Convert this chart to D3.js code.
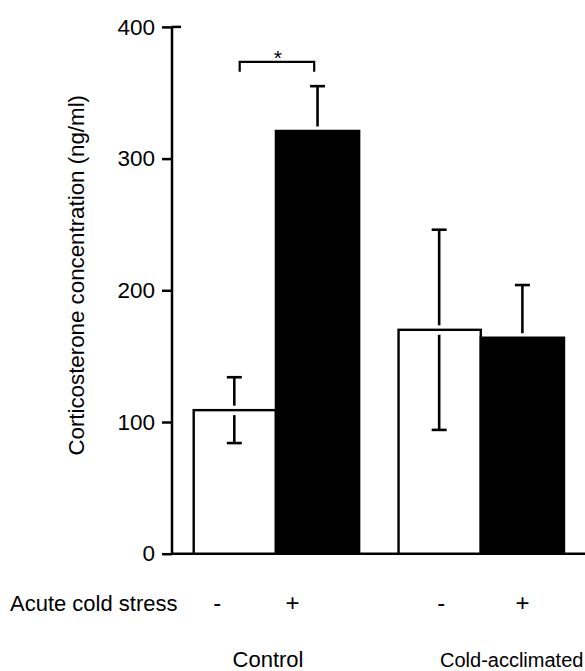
<!DOCTYPE html>
<html><head><meta charset="utf-8">
<script src="https://cdn.jsdelivr.net/npm/d3@7"></script>
<style>body{margin:0;background:#fff}svg{display:block}text{font-family:"Liberation Sans",Arial,sans-serif;fill:#000}</style>
</head><body><svg id="c" width="585" height="671"></svg>
<script>
const groups = ["Control", "Cold-acclimated"];
const treatments = ["-", "+"];
const means = [[109, 321], [170, 164]];
const errors = [[25, 34], [76, 40]];
const yTicks = [0, 100, 200, 300, 400];
const yLabel = "Corticosterone concentration (ng/ml)";
const rowLabel = "Acute cold stress";

const svg = d3.select("#c");
const y = d3.scaleLinear().domain([0, 400]).range([553.7, 26.9]);
const x0 = d3.scaleBand().domain(groups).range([192.7, 564]).paddingInner(0.1875).paddingOuter(0);
const x1 = d3.scaleBand().domain(treatments).range([0, x0.bandwidth()]).padding(0);
const axX = 172;

// baseline
svg.append("line").attr("x1", axX).attr("x2", 585).attr("y1", y(0)).attr("y2", y(0))
  .attr("stroke", "#000").attr("stroke-width", 2.5);

// bars
const data = [];
groups.forEach((g, gi) => treatments.forEach((t, ti) => data.push({g, t, v: means[gi][ti], e: errors[gi][ti]})));
svg.selectAll("rect.bar").data(data).enter().append("rect")
  .attr("x", d => x0(d.g) + x1(d.t) + (d.t === "-" ? 1 : 0))
  .attr("y", d => y(d.v))
  .attr("width", d => x1.bandwidth() - (d.t === "-" ? 1 : 0))
  .attr("height", d => y(0) - y(d.v))
  .attr("fill", d => d.t === "+" ? "#000" : "#fff")
  .attr("stroke", "#000").attr("stroke-width", 2.4);

// error bars
const eb = svg.append("g").attr("stroke", "#000").attr("stroke-width", 2.6);
data.forEach(d => {
  const cx = x0(d.g) + x1(d.t) + x1.bandwidth() / 2;
  eb.append("line").attr("x1", cx).attr("x2", cx).attr("y1", y(d.v + d.e)).attr("y2", y(d.v) - 4.5);
  eb.append("line").attr("x1", cx - 7.5).attr("x2", cx + 7.5).attr("y1", y(d.v + d.e)).attr("y2", y(d.v + d.e));
  if (d.t === "-") {
    eb.append("line").attr("x1", cx).attr("x2", cx).attr("y1", y(d.v) + 5).attr("y2", y(d.v - d.e));
    eb.append("line").attr("x1", cx - 7.5).attr("x2", cx + 7.5).attr("y1", y(d.v - d.e)).attr("y2", y(d.v - d.e));
  }
});

// y axis
const yAxis = d3.axisLeft(y).tickValues(yTicks).tickSize(10).tickPadding(7).tickFormat(d3.format("d"));
const ga = svg.append("g").attr("transform", `translate(${axX},0)`).call(yAxis);
ga.select(".domain").attr("d", `M0,${y(400)}V${y(0)}`).attr("stroke-width", 2.5);
ga.selectAll(".tick line").attr("stroke-width", 2.5);
ga.selectAll(".tick text").attr("font-size", 22.5).attr("font-family", "Liberation Sans, Arial, sans-serif");
// top tick extends both sides
svg.append("line").attr("x1", axX).attr("x2", axX + 9).attr("y1", y(400)).attr("y2", y(400))
  .attr("stroke", "#000").attr("stroke-width", 2.5);

// y label
svg.append("text").attr("transform", `translate(84,${(y(0) + y(400)) / 2 - 15}) rotate(-90)`)
  .attr("text-anchor", "middle").attr("font-size", 22.3).text(yLabel);

// significance bracket
const bx1 = x0(groups[0]) + 47, bx2 = x0(groups[0]) + 121.5;
const by = y(373.5);
svg.append("path").attr("d", `M${bx1},${by + 10}V${by}H${bx2}V${by + 10}`)
  .attr("fill", "none").attr("stroke", "#000").attr("stroke-width", 2.2);
svg.append("text").attr("x", (bx1 + bx2) / 2 + 1).attr("y", by + 3).attr("text-anchor", "middle")
  .attr("font-size", 21).text("*");

// bottom labels
svg.append("text").attr("x", 10).attr("y", 611).attr("font-size", 22).text(rowLabel);
const tickOff = [[-17, -25], [2, 0]];
groups.forEach((g, gi) => treatments.forEach((t, ti) => {
  svg.append("text").attr("x", x0(g) + x1(t) + x1.bandwidth() / 2 + tickOff[gi][ti]).attr("y", 611)
    .attr("text-anchor", "middle").attr("font-size", 24).text(t);
}));
svg.append("text").attr("x", 268).attr("y", 667).attr("text-anchor", "middle").attr("font-size", 22).text(groups[0]);
svg.append("text").attr("x", 440).attr("y", 667).attr("text-anchor", "start").attr("font-size", 20).text(groups[1]);
</script></body></html>
